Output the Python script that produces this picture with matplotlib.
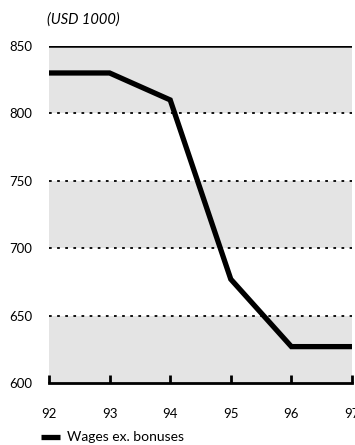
import matplotlib.pyplot as plt

years = [92, 93, 94, 95, 96, 97]
wages = [830, 830, 810, 677, 627, 627]
y_ticks = [600, 650, 700, 750, 800, 850]

plt.rcParams['font.family'] = ['Lato', 'DejaVu Sans']

fig = plt.figure(figsize=(3.55, 4.45), dpi=100)
ax = fig.add_axes([0.138, 0.1393, 0.8535, 0.7573])

# alternating grey bands
for lo, hi in [(600, 650), (700, 750), (800, 850)]:
    ax.axhspan(lo, hi, color="#e4e4e4", lw=0, zorder=0)
for y in [650, 700, 750, 800]:
    ax.axhline(y, color="black", lw=1.3, ls=(0, (1.5, 3)), zorder=1)
ax.axhline(850, color="black", lw=1.8, zorder=1)

ax.plot(years, wages, color="black", lw=3.8, solid_joinstyle="miter",
        solid_capstyle="butt", zorder=3, label="Wages ex. bonuses")

ax.set_xlim(92, 97)
ax.set_ylim(600, 850)
ax.set_xticks(years)
ax.set_yticks(y_ticks)
ax.tick_params(axis="x", direction="in", length=6, width=2, pad=18, labelsize=9.5)
ax.tick_params(axis="y", length=0, pad=12, labelsize=9.5)
for s in ["top", "right", "left"]:
    ax.spines[s].set_visible(False)
ax.spines["bottom"].set_linewidth(2)
ax.spines["bottom"].set_zorder(4)

ax.text(-0.007, 1.077, "(USD 1000)", transform=ax.transAxes, fontsize=10.5,
        style="italic", va="center", ha="left")

ax.legend(loc="upper left", bbox_to_anchor=(-0.045, -0.127), frameon=False,
          fontsize=10, handlelength=1.4, handletextpad=0.5, borderaxespad=0)

fig.savefig("out.png", dpi=100)
